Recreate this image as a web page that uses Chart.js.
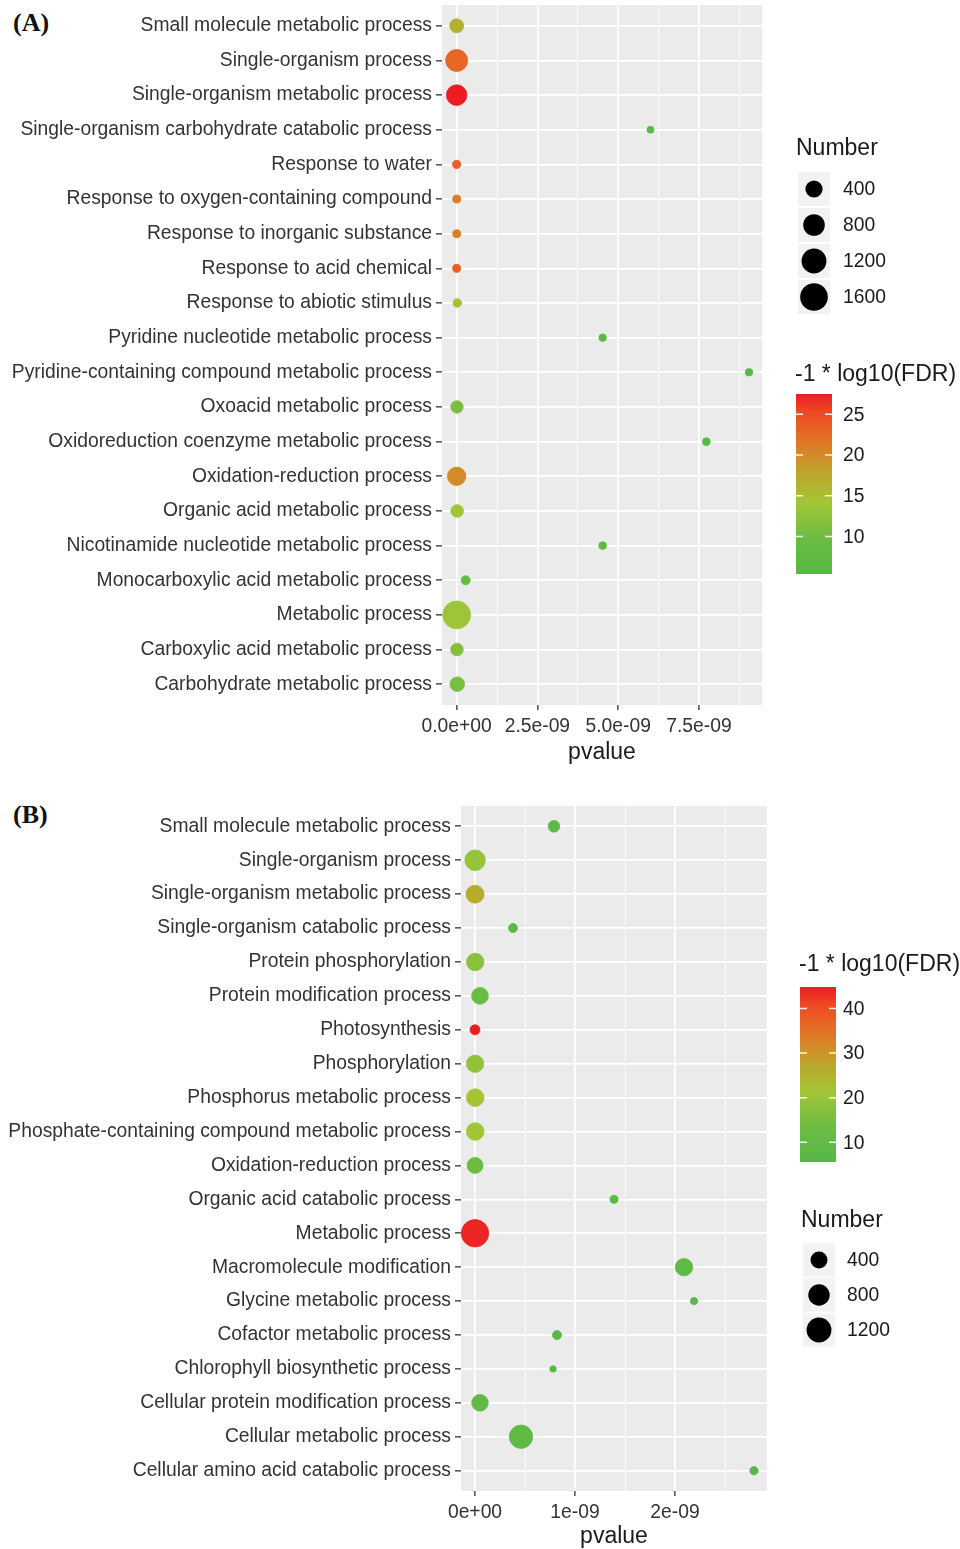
<!DOCTYPE html>
<html>
<head>
<meta charset="utf-8">
<script src="https://cdn.jsdelivr.net/npm/chart.js@4.4.1/dist/chart.umd.min.js"></script>
<style>
html,body{margin:0;padding:0;background:#fff;width:960px;height:1549px;overflow:hidden;}
.wrap{position:absolute;left:0;width:960px;}
.tag{position:absolute;font-family:"Liberation Serif","Times New Roman",serif;font-weight:bold;font-size:26px;color:#111;line-height:30px;}
</style>
</head>
<body>
<div class="tag" style="left:13px;top:8px">(A)</div>
<div class="wrap" style="top:0;height:775px"><canvas id="cA" width="960" height="775" style="width:960px;height:775px"></canvas></div>
<div class="tag" style="left:13px;top:800px">(B)</div>
<div class="wrap" style="top:775px;height:774px"><canvas id="cB" width="960" height="774" style="width:960px;height:774px"></canvas></div>
<script>
// ---------------- Panel A data ----------------
const categoriesA = [
  "Small molecule metabolic process",
  "Single-organism process",
  "Single-organism metabolic process",
  "Single-organism carbohydrate catabolic process",
  "Response to water",
  "Response to oxygen-containing compound",
  "Response to inorganic substance",
  "Response to acid chemical",
  "Response to abiotic stimulus",
  "Pyridine nucleotide metabolic process",
  "Pyridine-containing compound metabolic process",
  "Oxoacid metabolic process",
  "Oxidoreduction coenzyme metabolic process",
  "Oxidation-reduction process",
  "Organic acid metabolic process",
  "Nicotinamide nucleotide metabolic process",
  "Monocarboxylic acid metabolic process",
  "Metabolic process",
  "Carboxylic acid metabolic process",
  "Carbohydrate metabolic process"
];
const pvalueA = [2e-12, 1e-14, 1e-15, 6.0e-9, 5e-13, 3e-12, 4e-12, 6e-13, 2e-11, 4.52e-9,
                 9.05e-9, 1e-11, 7.73e-9, 1e-13, 1.5e-11, 4.52e-9, 2.8e-10, 1e-12, 1e-11, 2e-11];
const numberA = [192, 847, 698, 10, 17, 14, 14, 14, 20, 11,
                 11, 119, 12, 493, 127, 12, 25, 1620, 127, 225];
const fdrA = [16.5, 23, 27.5, 6, 23.7, 21.3, 21, 23.5, 14.7, 6.5,
              5.4, 11, 6, 20, 14.3, 6.5, 8.8, 13.8, 11.7, 10.8];
const xTickValuesA = [0, 2.5e-9, 5e-9, 7.5e-9];
const xTickLabelsA = ["0.0e+00", "2.5e-09", "5.0e-09", "7.5e-09"];
const xMinorA = [1.25e-9, 3.75e-9, 6.25e-9, 8.75e-9];
const sizeBreaksA = [400, 800, 1200, 1600];
const colorBreaksA = [10, 15, 20, 25];

// ---------------- Panel B data ----------------
const categoriesB = [
  "Small molecule metabolic process",
  "Single-organism process",
  "Single-organism metabolic process",
  "Single-organism catabolic process",
  "Protein phosphorylation",
  "Protein modification process",
  "Photosynthesis",
  "Phosphorylation",
  "Phosphorus metabolic process",
  "Phosphate-containing compound metabolic process",
  "Oxidation-reduction process",
  "Organic acid catabolic process",
  "Metabolic process",
  "Macromolecule modification",
  "Glycine metabolic process",
  "Cofactor metabolic process",
  "Chlorophyll biosynthetic process",
  "Cellular protein modification process",
  "Cellular metabolic process",
  "Cellular amino acid catabolic process"
];
const pvalueB = [0.79e-9, 1e-12, 1e-13, 0.38e-9, 2e-12, 5e-11, 1e-15, 1e-12, 2e-12, 2e-12,
                 1e-12, 1.39e-9, 1e-16, 2.09e-9, 2.19e-9, 0.82e-9, 0.78e-9, 5e-11, 0.46e-9, 2.79e-9];
const numberB = [104, 714, 480, 34, 432, 380, 55, 430, 450, 450,
                 332, 19, 1550, 430, 13, 34, 10, 373, 1019, 24];
const fdrB = [8, 19.6, 26.5, 7, 17.6, 12.5, 44.8, 18.8, 21.6, 21,
              13.6, 7, 44, 8.9, 6, 7, 6.5, 9.5, 10, 5.6];
const xTickValuesB = [0, 1e-9, 2e-9];
const xTickLabelsB = ["0e+00", "1e-09", "2e-09"];
const xMinorB = [0.5e-9, 1.5e-9, 2.5e-9];
const sizeBreaksB = [400, 800, 1200];
const colorBreaksB = [10, 20, 30, 40];

// ---------------- helpers ----------------
const FONT = '"Liberation Sans", Arial, Helvetica, sans-serif';
const GRAD = [
  [0.00, [85, 184, 71]],
  [0.20, [108, 188, 66]],
  [0.40, [163, 197, 54]],
  [0.55, [186, 168, 44]],
  [0.66, [211, 138, 40]],
  [0.80, [233, 100, 36]],
  [0.90, [237, 72, 35]],
  [1.00, [236, 28, 36]]
];
function gradColor(t) {
  t = Math.max(0, Math.min(1, t));
  for (let i = 1; i < GRAD.length; i++) {
    if (t <= GRAD[i][0]) {
      const [t0, c0] = GRAD[i - 1], [t1, c1] = GRAD[i];
      const f = (t - t0) / (t1 - t0);
      const c = c0.map((v, k) => Math.round(v + (c1[k] - v) * f));
      return `rgb(${c[0]},${c[1]},${c[2]})`;
    }
  }
  const c = GRAD[GRAD.length - 1][1];
  return `rgb(${c[0]},${c[1]},${c[2]})`;
}

function makePanel(canvasId, d, L) {
  const nMin = Math.min(...d.num), nMax = Math.max(...d.num);
  const fMin = Math.min(...d.fdr), fMax = Math.max(...d.fdr);
  const radius = v => L.rMin + (L.rMax - L.rMin) * Math.sqrt(Math.max(0, (v - nMin) / (nMax - nMin)));
  const color = v => gradColor((v - fMin) / (fMax - fMin));
  const n = d.cats.length;
  const isMajor = v => d.xTicks.some(t => Math.abs(t - v) < 1e-15);
  const points = d.cats.map((c, i) => ({x: d.pval[i], y: i, r: radius(d.num[i])}));
  const cols = d.fdr.map(color);

  const bg = {
    id: 'panelBg',
    beforeDraw(chart) {
      const {ctx, chartArea: a} = chart;
      ctx.save();
      ctx.fillStyle = '#ebebeb';
      ctx.fillRect(a.left, a.top, a.right - a.left, a.bottom - a.top);
      ctx.restore();
    }
  };
  const legends = {
    id: 'ggLegends',
    afterDraw(chart) {
      const ctx = chart.ctx;
      ctx.save();
      // size legend
      ctx.fillStyle = '#1a1a1a';
      ctx.font = `23px ${FONT}`;
      ctx.textBaseline = 'middle';
      ctx.textAlign = 'left';
      ctx.fillText('Number', L.sizeX - 1, L.sizeTitleY);
      d.sizeBreaks.forEach((b, k) => {
        const cy = L.sizeY0 + k * L.keyH;
        ctx.fillStyle = '#f2f2f2';
        ctx.fillRect(L.sizeX, cy - L.keyH / 2, L.keyW, L.keyH);
        ctx.strokeStyle = '#ffffff';
        ctx.lineWidth = 1;
        ctx.strokeRect(L.sizeX + 0.5, cy - L.keyH / 2 + 0.5, L.keyW - 1, L.keyH - 1);
        ctx.fillStyle = '#000';
        ctx.beginPath();
        ctx.arc(L.sizeX + L.keyW / 2, cy, radius(b), 0, Math.PI * 2);
        ctx.fill();
        ctx.fillStyle = '#1a1a1a';
        ctx.font = `19.3px ${FONT}`;
        ctx.fillText(String(b), L.sizeLabelX, cy + 1);
      });
      // colour bar
      ctx.fillStyle = '#1a1a1a';
      ctx.font = `23px ${FONT}`;
      ctx.fillText('-1 * log10(FDR)', L.barX - 1, L.barTitleY);
      const g = ctx.createLinearGradient(0, L.barBottom, 0, L.barTop);
      for (let s = 0; s <= 40; s++) g.addColorStop(s / 40, gradColor(s / 40));
      ctx.fillStyle = g;
      ctx.fillRect(L.barX, L.barTop, L.barW, L.barBottom - L.barTop);
      d.colorBreaks.forEach(b => {
        const y = L.barBottom - (b - fMin) / (fMax - fMin) * (L.barBottom - L.barTop);
        ctx.strokeStyle = 'rgba(255,255,255,0.9)';
        ctx.lineWidth = 1.5;
        ctx.beginPath();
        ctx.moveTo(L.barX, y); ctx.lineTo(L.barX + 7, y);
        ctx.moveTo(L.barX + L.barW - 7, y); ctx.lineTo(L.barX + L.barW, y);
        ctx.stroke();
        ctx.fillStyle = '#1a1a1a';
        ctx.font = `19.3px ${FONT}`;
        ctx.fillText(String(b), L.barLabelX, y + 1);
      });
      ctx.restore();
    }
  };

  return new Chart(document.getElementById(canvasId), {
    type: 'bubble',
    data: {
      datasets: [{
        data: points,
        backgroundColor: cols,
        borderColor: cols,
        borderWidth: 0.8
      }]
    },
    options: {
      responsive: false,
      animation: false,
      events: [],
      layout: {autoPadding: false, padding: {left: 0, right: L.padRight, top: L.padTop, bottom: L.padBottom}},
      plugins: {legend: {display: false}, tooltip: {enabled: false}},
      scales: {
        x: {
          type: 'linear',
          min: L.xMin, max: L.xMax,
          afterBuildTicks: s => {
            s.ticks = [...d.xTicks, ...d.xMinor].sort((a, b) => a - b).map(v => ({value: v}));
          },
          afterFit: s => { s.height = L.xAxisH; s.paddingLeft = 0; s.paddingRight = 0; },
          ticks: {
            autoSkip: false, maxRotation: 0, minRotation: 0, padding: 5,
            color: '#333', font: {family: FONT, size: 19.3},
            callback: v => {
              const k = d.xTicks.findIndex(t => Math.abs(t - v) < 1e-15);
              return k >= 0 ? d.xTickLabels[k] : '';
            }
          },
          grid: {
            color: '#ffffff',
            lineWidth: c => (c.tick && isMajor(c.tick.value)) ? 1.7 : 0.8,
            tickColor: c => (c.tick && isMajor(c.tick.value)) ? '#333333' : 'rgba(0,0,0,0)',
            tickLength: 5, tickWidth: 1.3
          },
          border: {display: false},
          title: {display: true, text: 'pvalue', color: '#1a1a1a', padding: 0,
                  font: {family: FONT, size: 23, lineHeight: 1}}
        },
        y: {
          type: 'linear',
          min: -0.6, max: n - 1 + 0.6, reverse: true,
          afterBuildTicks: s => { s.ticks = d.cats.map((c, i) => ({value: i})); },
          afterFit: s => { s.width = L.yAxisW; s.paddingTop = 0; s.paddingBottom = 0; },
          ticks: {
            autoSkip: false, padding: 4, color: '#333', font: {family: FONT, size: 19.3},
            callback: v => d.cats[v]
          },
          grid: {color: '#ffffff', lineWidth: 1.7, tickColor: '#333333', tickLength: 6, tickWidth: 1.3},
          border: {display: false}
        }
      }
    },
    plugins: [bg, legends]
  });
}

makePanel('cA', {
  cats: categoriesA, pval: pvalueA, num: numberA, fdr: fdrA,
  xTicks: xTickValuesA, xTickLabels: xTickLabelsA, xMinor: xMinorA,
  sizeBreaks: sizeBreaksA, colorBreaks: colorBreaksA
}, {
  rMin: 3.5, rMax: 13.9,
  xMin: -0.453e-9, xMax: 9.453e-9,
  padRight: 198, padTop: 5, padBottom: 10.5, xAxisH: 59.5, yAxisW: 442,
  sizeX: 797, sizeTitleY: 149, sizeY0: 189, keyH: 36, keyW: 34, sizeLabelX: 843,
  barX: 796, barW: 36, barTop: 394, barBottom: 574, barTitleY: 375, barLabelX: 843
});

makePanel('cB', {
  cats: categoriesB, pval: pvalueB, num: numberB, fdr: fdrB,
  xTicks: xTickValuesB, xTickLabels: xTickLabelsB, xMinor: xMinorB,
  sizeBreaks: sizeBreaksB, colorBreaks: colorBreaksB
}, {
  rMin: 3.2, rMax: 13.7,
  xMin: -0.14e-9, xMax: 2.92e-9,
  padRight: 193, padTop: 31, padBottom: 0.5, xAxisH: 57.5, yAxisW: 461,
  sizeX: 802, sizeTitleY: 446, sizeY0: 485, keyH: 35, keyW: 34, sizeLabelX: 847,
  barX: 800, barW: 36, barTop: 212, barBottom: 387, barTitleY: 190, barLabelX: 843
});
</script>
</body>
</html>
